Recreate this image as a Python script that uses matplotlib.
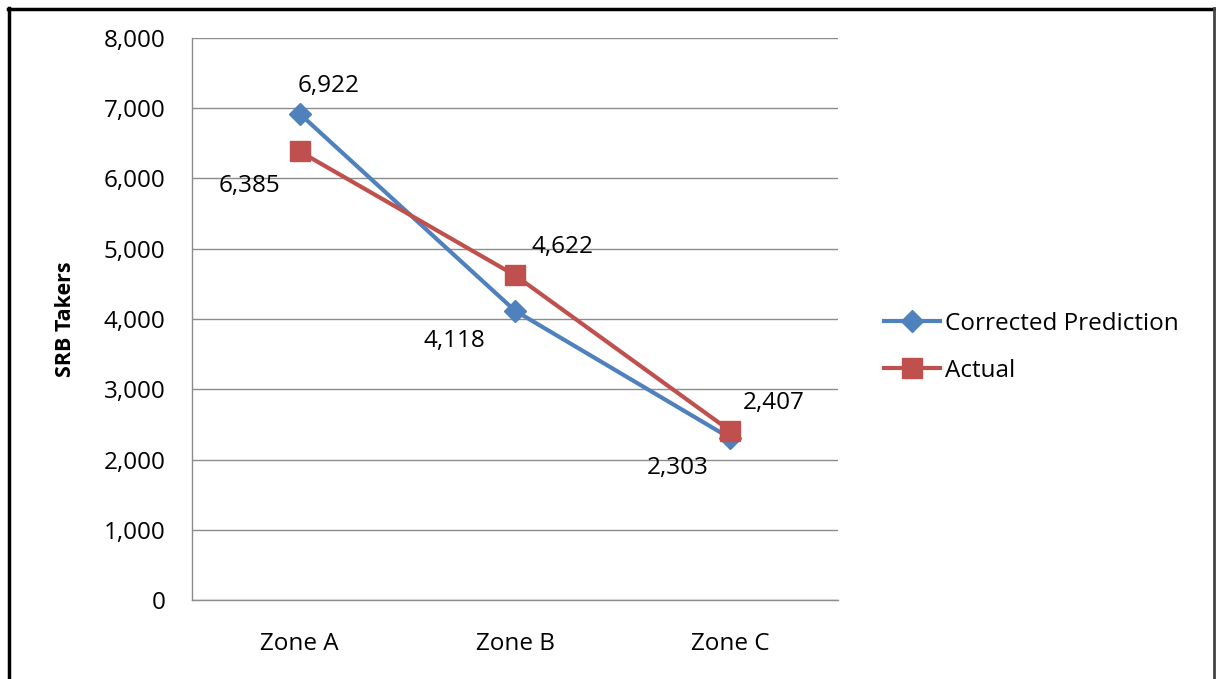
import numpy as np
import matplotlib.pyplot as plt
from matplotlib.lines import Line2D
from matplotlib.ticker import FuncFormatter

plt.rcParams['font.family'] = ['Open Sans', 'DejaVu Sans']

zones = ["Zone A", "Zone B", "Zone C"]
predicted = [6922, 4118, 2303]
actual = [6385, 4622, 2407]

# label offsets in pixels, as placed in the original chart
pred_offsets = [(29, 28), (-61, -30), (-53, -30)]
act_offsets = [(-50, -35), (47, 28), (43, 28)]

BLUE = "#4F81BD"
RED = "#C0504D"
GRID = "#8C8C8C"
FS = 17.5

W, H = 1216, 679
fig = plt.figure(figsize=(W / 100, H / 100), dpi=100, facecolor="white")
ax = fig.add_axes([192 / W, 1 - 600 / H, (838 - 192) / W, (600 - 38) / H])

x = np.arange(len(zones))
ax.plot(x, predicted, color=BLUE, lw=3, marker="D", ms=11, mfc=BLUE, mec=BLUE,
        label="Corrected Prediction", zorder=3)
ax.plot(x, actual, color=RED, lw=3, marker="s", ms=15, mfc=RED, mec=RED,
        label="Actual", zorder=4)

for vals, offs in [(predicted, pred_offsets), (actual, act_offsets)]:
    for i, v in enumerate(vals):
        ax.annotate(f"{v:,}", (x[i], v), xytext=offs[i], textcoords="offset pixels",
                    ha="center", va="center", fontsize=FS, color="black")

ax.set_xlim(-0.5, len(zones) - 0.5)
ax.set_ylim(0, 8000)
ax.set_yticks(np.arange(0, 8001, 1000))
ax.yaxis.set_major_formatter(FuncFormatter(lambda v, p: f"{int(v):,}"))
ax.set_xticks(x)
ax.set_xticklabels(zones)
ax.tick_params(axis="both", length=0, labelsize=FS)
ax.tick_params(axis="y", pad=19)
ax.tick_params(axis="x", pad=23)
ax.grid(axis="y", color=GRID, lw=1)
ax.set_axisbelow(True)
for s in ["top", "right"]:
    ax.spines[s].set_visible(False)
for s in ["left", "bottom"]:
    ax.spines[s].set_color(GRID)
    ax.spines[s].set_linewidth(1)

ax.set_ylabel("SRB Takers", fontsize=15.5, fontweight="bold", labelpad=20)

ax.legend(loc="center left", bbox_to_anchor=(1.038, 0.45), frameon=False,
          fontsize=FS, handlelength=2.3, handletextpad=0.2, labelspacing=0.95)

# outer frame of the original screenshot (no bottom edge)
fig.add_artist(Line2D([9 / W, 9 / W], [0, 1 - 8 / H], color="black", lw=2.5))
fig.add_artist(Line2D([8 / W, 1214 / W], [1 - 9 / H, 1 - 9 / H], color="black", lw=2.5))
fig.add_artist(Line2D([1214 / W, 1214 / W], [0, 1 - 8 / H], color="#444444", lw=2))

fig.savefig("out.png", dpi=100, facecolor="white")
